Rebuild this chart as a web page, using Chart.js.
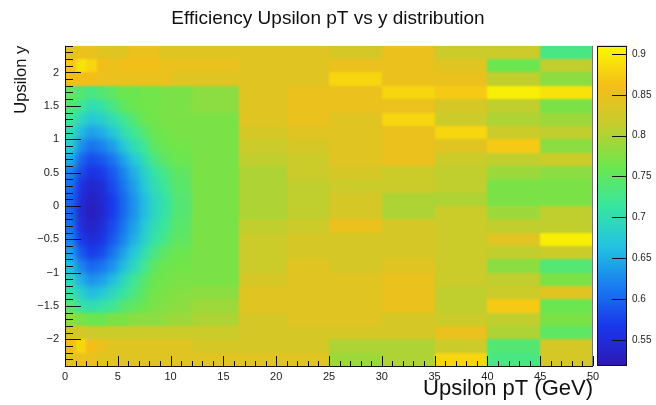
<!DOCTYPE html>
<html><head><meta charset="utf-8">
<script src="https://cdn.jsdelivr.net/npm/chart.js@4.4.1/dist/chart.umd.min.js"></script>
<style>html,body{margin:0;padding:0;background:#fff;}#c{display:block;}</style>
</head><body>
<canvas id="c" width="656" height="405"></canvas>
<script>
const chartTitle = 'Efficiency Upsilon pT vs y distribution';
const xTitle = 'Upsilon pT (GeV)';
const yTitle = 'Upsilon y';
const ptEdges = [0,1,2,3,4,5,6,7,8,9,10,12,16.5,21,25,30,35,40,45,50];
const yEdges = [2.4,2.2,2.0,1.8,1.6,1.4,1.2,1.0,0.8,0.6,0.4,0.2,0,-0.2,-0.4,-0.6,-0.8,-1.0,-1.2,-1.4,-1.6,-1.8,-2.0,-2.2,-2.4];
// efficiency per y-row (top to bottom), one value per pT bin
const effRows = [
 [0.84,0.85,0.85,0.84,0.84,0.84,0.85,0.85,0.85,0.84,0.84,0.84,0.84,0.84,0.83,0.85,0.82,0.82,0.73],
 [0.87,0.89,0.88,0.86,0.85,0.86,0.86,0.86,0.86,0.85,0.85,0.85,0.84,0.84,0.85,0.85,0.84,0.76,0.81],
 [0.86,0.86,0.86,0.85,0.85,0.85,0.85,0.85,0.85,0.85,0.84,0.84,0.84,0.84,0.88,0.85,0.85,0.81,0.78],
 [0.75,0.74,0.73,0.74,0.75,0.76,0.76,0.765,0.765,0.77,0.77,0.78,0.84,0.85,0.85,0.88,0.87,0.90,0.89],
 [0.74,0.72,0.70,0.71,0.73,0.75,0.76,0.765,0.765,0.77,0.77,0.78,0.84,0.85,0.85,0.85,0.83,0.81,0.77],
 [0.72,0.69,0.67,0.68,0.70,0.72,0.74,0.76,0.765,0.77,0.77,0.77,0.84,0.85,0.84,0.88,0.82,0.80,0.79],
 [0.70,0.66,0.64,0.65,0.67,0.70,0.72,0.74,0.76,0.765,0.77,0.77,0.83,0.84,0.84,0.85,0.88,0.82,0.81],
 [0.68,0.63,0.61,0.62,0.64,0.67,0.70,0.72,0.75,0.76,0.765,0.77,0.82,0.83,0.84,0.85,0.84,0.87,0.78],
 [0.65,0.60,0.58,0.59,0.61,0.64,0.67,0.70,0.73,0.75,0.76,0.77,0.81,0.82,0.84,0.85,0.82,0.81,0.82],
 [0.62,0.58,0.56,0.57,0.59,0.62,0.65,0.68,0.71,0.73,0.75,0.77,0.80,0.82,0.83,0.82,0.81,0.79,0.78],
 [0.61,0.56,0.54,0.55,0.58,0.61,0.64,0.67,0.70,0.72,0.745,0.77,0.80,0.81,0.82,0.82,0.81,0.77,0.77],
 [0.60,0.55,0.53,0.545,0.57,0.60,0.63,0.66,0.69,0.71,0.74,0.77,0.80,0.81,0.83,0.80,0.80,0.77,0.77],
 [0.60,0.545,0.525,0.54,0.57,0.60,0.63,0.66,0.69,0.71,0.74,0.77,0.80,0.81,0.83,0.80,0.82,0.79,0.81],
 [0.61,0.55,0.535,0.55,0.58,0.61,0.64,0.67,0.70,0.72,0.745,0.77,0.81,0.82,0.85,0.83,0.82,0.81,0.81],
 [0.62,0.57,0.55,0.56,0.59,0.62,0.65,0.68,0.71,0.73,0.75,0.77,0.82,0.83,0.83,0.83,0.82,0.84,0.90],
 [0.64,0.59,0.57,0.58,0.61,0.64,0.67,0.70,0.73,0.75,0.76,0.77,0.82,0.83,0.83,0.83,0.82,0.81,0.82],
 [0.66,0.62,0.60,0.61,0.63,0.66,0.69,0.72,0.75,0.76,0.765,0.77,0.82,0.84,0.83,0.84,0.82,0.78,0.74],
 [0.69,0.65,0.63,0.64,0.66,0.69,0.72,0.74,0.76,0.765,0.77,0.77,0.83,0.84,0.84,0.85,0.82,0.81,0.77],
 [0.71,0.68,0.66,0.67,0.69,0.71,0.73,0.75,0.765,0.77,0.775,0.78,0.84,0.84,0.84,0.85,0.81,0.82,0.84],
 [0.74,0.71,0.70,0.71,0.72,0.74,0.75,0.76,0.77,0.775,0.78,0.79,0.84,0.84,0.84,0.85,0.81,0.87,0.76],
 [0.78,0.77,0.76,0.76,0.77,0.77,0.78,0.78,0.78,0.785,0.79,0.80,0.83,0.84,0.84,0.83,0.82,0.81,0.77],
 [0.83,0.83,0.82,0.82,0.82,0.82,0.82,0.82,0.82,0.82,0.82,0.82,0.83,0.83,0.83,0.83,0.85,0.80,0.75],
 [0.86,0.88,0.86,0.85,0.84,0.84,0.84,0.84,0.84,0.84,0.84,0.83,0.83,0.83,0.80,0.80,0.82,0.74,0.83],
 [0.84,0.85,0.85,0.84,0.84,0.84,0.84,0.84,0.84,0.84,0.84,0.84,0.84,0.84,0.79,0.80,0.88,0.73,0.83]
];
const xTicks = [0,5,10,15,20,25,30,35,40,45,50];
const yTicks = [-2,-1.5,-1,-0.5,0,0.5,1,1.5,2];
const zTicks = [0.55,0.6,0.65,0.7,0.75,0.8,0.85,0.9];
const zRange = [0.518, 0.91];
const xMinorStep = 1, yMinorStep = 0.1;

// colour palette (ROOT-like bird, saturated)
const palStops = [0,0.125,0.25,0.375,0.5,0.625,0.75,0.875,1];
const palRGB = [[45,25,180],[25,55,235],[25,125,240],[35,195,225],[55,230,160],[110,230,75],[195,205,45],[245,190,25],[250,250,0]];
function colorFor(v){
  let f = (v - zRange[0])/(zRange[1]-zRange[0]);
  f = Math.max(0, Math.min(1, f));
  let i = 0;
  while (i < palStops.length-2 && f > palStops[i+1]) i++;
  const t = (f - palStops[i])/(palStops[i+1]-palStops[i]);
  const a = palRGB[i], b = palRGB[i+1];
  return 'rgb(' + [0,1,2].map(k=>Math.round(a[k]+(b[k]-a[k])*t)).join(',') + ')';
}

const cells = [];
effRows.forEach((row, r) => row.forEach((v, c) => {
  cells.push({x:(ptEdges[c]+ptEdges[c+1])/2, y:(yEdges[r]+yEdges[r+1])/2,
    x0:ptEdges[c], x1:ptEdges[c+1], yHi:yEdges[r], yLo:yEdges[r+1], v});
}));

const fmt = v => { const s = String(Number(v.toFixed(2))); return v < 0 ? s.replace('-', '\u2212') : s; };
const FONT = '"Liberation Sans", Arial, sans-serif';
const tickFont = {family:FONT, size:11};

const heatPlugin = {
  id:'heat',
  beforeDatasetsDraw(chart){
    const {ctx, chartArea:a, scales:{x, y}} = chart;
    const off = document.createElement('canvas');
    off.width = chart.width; off.height = chart.height;
    const o = off.getContext('2d');
    chart.data.datasets[0].data.forEach(c => {
      const px0 = Math.round(x.getPixelForValue(c.x0)), px1 = Math.round(x.getPixelForValue(c.x1));
      const py0 = Math.round(y.getPixelForValue(c.yHi)), py1 = Math.round(y.getPixelForValue(c.yLo));
      o.fillStyle = colorFor(c.v);
      o.fillRect(px0, py0, px1-px0, py1-py0);
    });
    ctx.save();
    ctx.beginPath(); ctx.rect(a.left, a.top, a.width, a.height); ctx.clip();
    ctx.drawImage(off, 0, 0);
    ctx.filter = 'blur(1.3px)';
    ctx.drawImage(off, 0, 0);
    ctx.restore();
    // softer look in the finely-varying low-pT core
    ctx.save();
    const cx1 = x.getPixelForValue(ptEdges[11]);
    const cy0 = y.getPixelForValue(1.6), cy1 = y.getPixelForValue(-1.6);
    ctx.beginPath(); ctx.rect(a.left, cy0, cx1 - a.left, cy1 - cy0); ctx.clip();
    ctx.filter = 'blur(3px)';
    ctx.drawImage(off, 0, 0);
    ctx.restore();
  },
  afterDraw(chart){
    const {ctx, chartArea:a, scales:{x, y, z}} = chart;
    ctx.save();
    // palette
    const pl = z.left + 4, pr = z.left + 34;
    const pt = z.getPixelForValue(zRange[1]), pb = z.getPixelForValue(zRange[0]);
    for (let py = Math.floor(pt); py < Math.ceil(pb); py++) {
      ctx.fillStyle = colorFor(z.getValueForPixel(py + 0.5));
      ctx.fillRect(pl, py, pr - pl, 1);
    }
    ctx.strokeStyle = '#111'; ctx.lineWidth = 1;
    ctx.strokeRect(pl + 0.5, Math.round(pt) + 0.5, pr - pl - 1, Math.round(pb - pt) - 1);
    ctx.beginPath();
    zTicks.forEach(v => { const py = Math.round(z.getPixelForValue(v)) + 0.5; ctx.moveTo(pr - 15, py); ctx.lineTo(pr, py); });
    ctx.stroke();
    // frame
    ctx.strokeStyle = '#111';
    ctx.beginPath();
    ctx.moveTo(a.left + 0.5, a.top); ctx.lineTo(a.left + 0.5, a.bottom + 0.5); ctx.lineTo(a.right, a.bottom + 0.5);
    ctx.stroke();
    ctx.strokeStyle = '#777';
    ctx.beginPath(); ctx.moveTo(a.right - 0.5, a.top); ctx.lineTo(a.right - 0.5, a.bottom); ctx.stroke();
    // axis tick marks (inside the frame)
    ctx.strokeStyle = '#111';
    ctx.beginPath();
    for (let k = Math.ceil(y.min / yMinorStep - 1e-6); k * yMinorStep <= y.max + 1e-6; k++) {
      const v = k * yMinorStep;
      const major = Math.abs(v / 0.5 - Math.round(v / 0.5)) < 1e-6;
      const py = Math.round(y.getPixelForValue(v)) + 0.5;
      ctx.moveTo(a.left, py); ctx.lineTo(a.left + (major ? 16 : 8), py);
    }
    for (let k = Math.ceil(x.min / xMinorStep); k * xMinorStep <= x.max; k++) {
      const v = k * xMinorStep;
      const major = v % 5 === 0;
      const px = Math.round(x.getPixelForValue(v)) + 0.5;
      ctx.moveTo(px, a.bottom); ctx.lineTo(px, a.bottom - (major ? 10 : 5));
    }
    ctx.stroke();
    ctx.restore();
  }
};

new Chart(document.getElementById('c'), {
  type:'scatter',
  data:{datasets:[{data:cells, pointRadius:0, pointHoverRadius:0, showLine:false}]},
  options:{
    responsive:false, animation:false, devicePixelRatio:1,
    layout:{padding:0},
    events:[],
    plugins:{
      legend:{display:false}, tooltip:{enabled:false},
      title:{display:true, text:chartTitle, color:'#111',
        font:{family:FONT, size:19, weight:'normal'},
        padding:{top:7, bottom:16}}
    },
    scales:{
      x:{type:'linear', min:0, max:50,
        afterBuildTicks: s => { s.ticks = xTicks.map(v => ({value:v})); },
        afterFit: s => { s.height = 39; },
        grid:{display:false, drawTicks:false}, border:{display:false},
        ticks:{padding:4, color:'#222', font:tickFont, maxRotation:0, autoSkip:false, callback:v=>fmt(v)},
        title:{display:true, text:xTitle, align:'end', color:'#111',
          font:{family:FONT, size:22}, padding:{top:0, bottom:3}}
      },
      y:{type:'linear', min:-2.4, max:2.4,
        afterBuildTicks: s => { s.ticks = yTicks.map(v => ({value:v})); },
        afterFit: s => { s.width = 65; },
        grid:{display:false, drawTicks:false}, border:{display:false},
        ticks:{padding:6, color:'#222', font:tickFont, autoSkip:false, callback:v=>fmt(v)},
        title:{display:true, text:yTitle, align:'end', color:'#111',
          font:{family:FONT, size:16.5}, padding:{top:12, bottom:0}}
      },
      z:{type:'linear', position:'right', min:zRange[0], max:zRange[1],
        afterBuildTicks: s => { s.ticks = zTicks.map(v => ({value:v})); },
        afterFit: s => { s.width = 63; },
        grid:{display:true, drawOnChartArea:false, drawTicks:true, tickLength:35, color:'rgba(0,0,0,0)'},
        border:{display:false},
        ticks:{padding:4, color:'#222', font:{family:FONT, size:10}, autoSkip:false, callback:v=>fmt(v)}
      }
    }
  },
  plugins:[heatPlugin]
});
</script>
</body></html>
